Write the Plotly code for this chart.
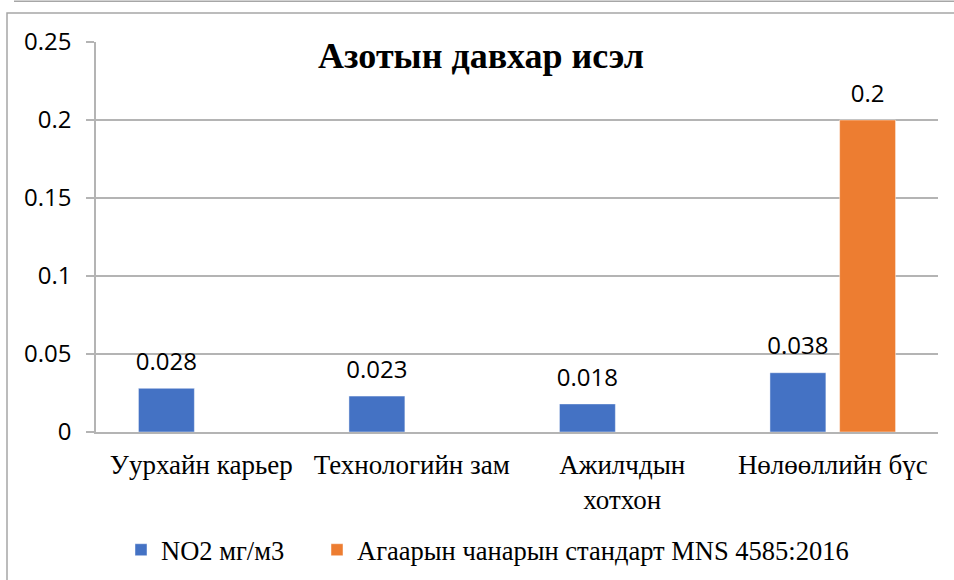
import plotly.graph_objects as go

categories = ["Уурхайн карьер", "Технологийн зам", "Ажилчдын<br>хотхон", "Нөлөөллийн бүс"]
no2_values = [0.028, 0.023, 0.018, 0.038]
standard_values = [None, None, None, 0.2]
series_names = ["NO2 мг/м3", "Агаарын чанарын стандарт MNS 4585:2016"]
title_text = "Азотын давхар исэл"
y_tickvals = [0, 0.05, 0.1, 0.15, 0.2, 0.25]
y_ticktext = ["0", "0.05", "0.1", "0.15", "0.2", "0.25"]

BLUE = "#4472C4"
ORANGE = "#ED7D31"
SERIF = "Liberation Serif, Times New Roman, serif"
SANS = "Open Sans, Liberation Sans, sans-serif"
GRID = "#b4b4b4"
FRAME = "#a6a6a6"

W, H = 954, 580
ML, MR, MT, MB = 96, 16, 42, 148
PW = W - ML - MR
PH = H - MT - MB


def px_x(px):
    return (px - ML) / PW


def px_y(py):
    return (H - MB - py) / PH


fig = go.Figure()
fig.add_trace(go.Bar(x=categories, y=no2_values, name=series_names[0],
                     marker=dict(color=BLUE, line=dict(color="rgba(255,255,255,0.45)", width=1)),
                     hoverinfo="skip", legend="legend"))
fig.add_trace(go.Bar(x=categories, y=standard_values, name=series_names[1],
                     marker=dict(color=ORANGE, line=dict(color="rgba(255,255,255,0.45)", width=1)),
                     hoverinfo="skip", legend="legend2"))

# data labels (grouped like the bars)
for vals in (no2_values, standard_values):
    fig.add_trace(go.Scatter(
        x=categories, y=vals, mode="markers+text",
        text=[None if v is None else f"{v:g}" for v in vals],
        textposition="top center",
        textfont=dict(family=SANS, size=24, color="#000000"),
        marker=dict(size=18, opacity=0),
        showlegend=False, hoverinfo="skip", cliponaxis=False))

legend_common = dict(orientation="h", xanchor="left", y=px_y(550), yanchor="middle",
                     font=dict(family=SERIF, size=26.5, color="#000000"),
                     bgcolor="rgba(0,0,0,0)")

fig.update_layout(
    width=W, height=H,
    margin=dict(l=ML, r=MR, t=MT, b=MB, autoexpand=False),
    paper_bgcolor="white", plot_bgcolor="white",
    barmode="group", bargap=0.338, bargroupgap=0.197,
    scattermode="group", scattergap=0.338,
    title=dict(text=f"<b>{title_text}</b>", font=dict(family=SERIF, size=36, color="#000000"),
               xref="paper", x=px_x(481), xanchor="center",
               yref="container", y=1 - 55 / H, yanchor="middle"),
    legend=dict(x=px_x(121), **legend_common),
    legend2=dict(x=px_x(317), **legend_common),
    xaxis=dict(showline=True, linecolor=GRID, linewidth=1.5, ticks="",
               ticklabelstandoff=8,
               tickfont=dict(family=SERIF, size=27, color="#000000"),
               showgrid=False, fixedrange=True),
    yaxis=dict(range=[0, 0.25], tickvals=y_tickvals, ticktext=y_ticktext,
               showline=True, linecolor=GRID, linewidth=1.5,
               showgrid=True, gridcolor=GRID, gridwidth=1.5,
               ticks="outside", ticklen=8, tickcolor=GRID, tickwidth=1.5,
               ticklabelstandoff=10,
               tickfont=dict(family=SANS, size=24, color="#000000"),
               zeroline=False, fixedrange=True),
    shapes=[
        dict(type="line", xref="paper", yref="paper", x0=px_x(14), x1=px_x(1000),
             y0=px_y(1.3), y1=px_y(1.3), line=dict(color=FRAME, width=1.5)),
        dict(type="rect", xref="paper", yref="paper", x0=px_x(7), x1=px_x(1000),
             y0=px_y(13), y1=px_y(640), line=dict(color=FRAME, width=1.5)),
    ],
    showlegend=True,
)

fig.write_html("out.html", config={"displayModeBar": False},
               post_script="document.body.style.margin='0';document.body.style.overflow='hidden';")
